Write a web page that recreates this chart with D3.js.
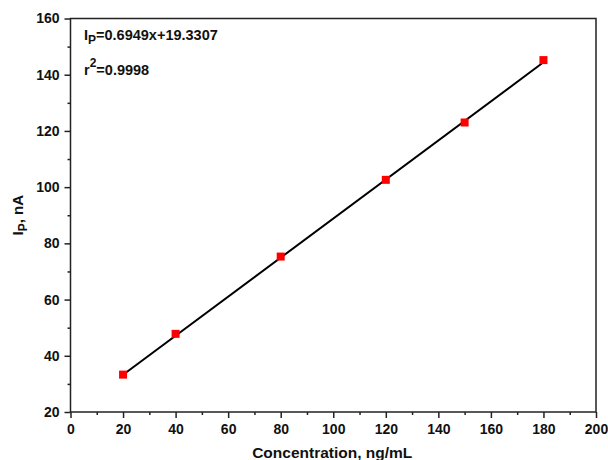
<!DOCTYPE html>
<html><head><meta charset="utf-8">
<script src="https://cdn.jsdelivr.net/npm/d3@7"></script>
<style>
body{margin:0;background:#fff;}
text{font-family:"Liberation Sans",Arial,sans-serif;font-weight:bold;fill:#111;}
</style></head>
<body><svg id="c" width="608" height="460"></svg>
<script>
const concentrations = [20, 40, 80, 120, 150, 180];
const currents = [33.3, 47.8, 75.3, 102.6, 123.0, 145.2];
const slope = 0.6949, intercept = 19.3307;
const xTicks = [0,20,40,60,80,100,120,140,160,180,200];
const yTicks = [20,40,60,80,100,120,140,160];
const xMinor = d3.range(10, 200, 20);
const yMinor = d3.range(30, 160, 20);

const svg = d3.select("#c");
const L=70.5, R=596, T=18.5, B=412;
const x = d3.scaleLinear().domain([0,200]).range([L,R]);
const y = d3.scaleLinear().domain([20,160]).range([B,T]);

svg.append("rect").attr("x",L).attr("y",T).attr("width",R-L).attr("height",B-T)
  .attr("fill","none").attr("stroke","#222").attr("stroke-width",1.5);

const gx = svg.append("g").attr("transform",`translate(0,${B})`);
gx.call(d3.axisBottom(x).tickValues(xTicks).tickSize(6).tickPadding(6).tickFormat(d3.format("d")));
gx.append("g").call(d3.axisBottom(x).tickValues(xMinor).tickSize(3).tickFormat(""));
const gy = svg.append("g").attr("transform",`translate(${L},0)`);
gy.call(d3.axisLeft(y).tickValues(yTicks).tickSize(6).tickPadding(5).tickFormat(d3.format("d")));
gy.append("g").call(d3.axisLeft(y).tickValues(yMinor).tickSize(3).tickFormat(""));
svg.selectAll(".domain").remove();
svg.selectAll(".tick line").attr("stroke","#222").attr("stroke-width",1.5);
svg.selectAll(".tick text").attr("font-size",14).attr("font-family","Liberation Sans, Arial, sans-serif").attr("font-weight","bold").attr("fill","#111");

const x0 = concentrations[0], x1 = concentrations[concentrations.length-1];
svg.append("line").attr("x1",x(x0)).attr("y1",y(slope*x0+intercept))
  .attr("x2",x(x1)).attr("y2",y(slope*x1+intercept))
  .attr("stroke","#000").attr("stroke-width",2);

svg.selectAll("rect.pt").data(concentrations).enter().append("rect").attr("class","pt")
  .attr("x",(d)=>x(d)-4).attr("y",(d,i)=>y(currents[i])-4).attr("width",8).attr("height",8)
  .attr("fill","#ff0000");

svg.append("text").attr("x",(L+R)/2 - 1).attr("y",458).attr("text-anchor","middle").attr("font-size",15.5)
  .text("Concentration, ng/mL");
const yt = svg.append("text").attr("transform",`translate(23,${(T+B)/2}) rotate(-90)`)
  .attr("text-anchor","middle").attr("font-size",15);
yt.append("tspan").text("I");
yt.append("tspan").attr("dy",4).attr("font-size",12).text("P");
yt.append("tspan").attr("dy",-4).text(", nA");

const a1 = svg.append("text").attr("x",84).attr("y",40).attr("font-size",14.5);
a1.append("tspan").text("I");
a1.append("tspan").attr("dy",4).attr("font-size",12).text("P");
a1.append("tspan").attr("dy",-4).text("=0.6949x+19.3307");
const a2 = svg.append("text").attr("x",84).attr("y",74.5).attr("font-size",14.5);
a2.append("tspan").text("r");
a2.append("tspan").attr("dy",-8).attr("font-size",12).text("2");
a2.append("tspan").attr("dy",8).text("=0.9998");
</script></body></html>
